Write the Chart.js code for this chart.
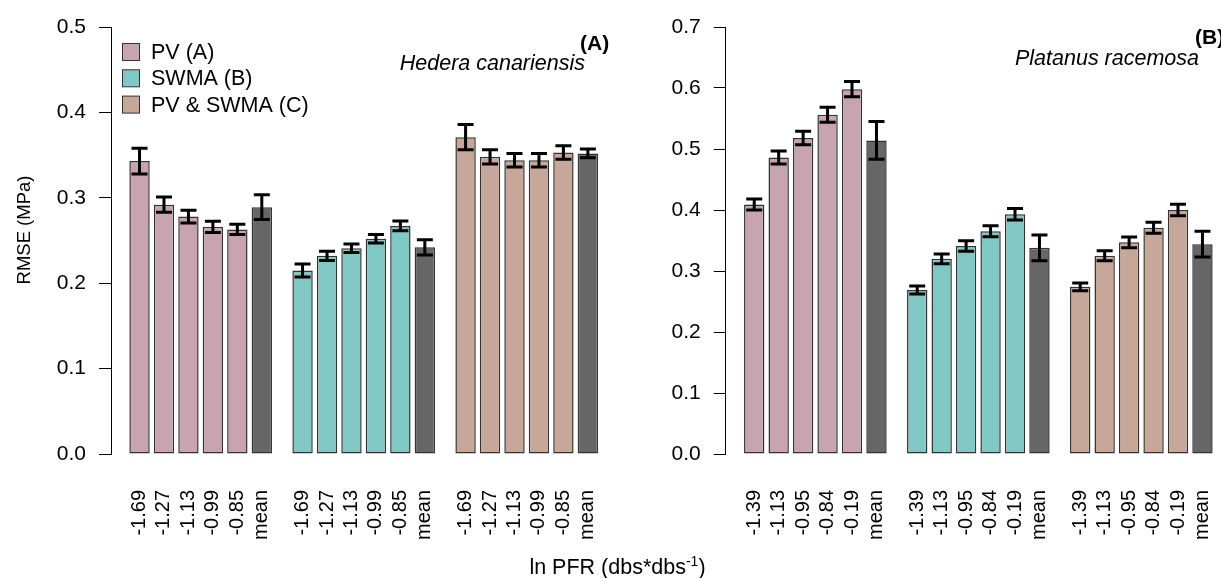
<!DOCTYPE html>
<html>
<head>
<meta charset="utf-8">
<script src="https://cdn.jsdelivr.net/npm/chart.js@4.4.1/dist/chart.umd.min.js"></script>
<style>
  body { margin: 0; background: #fff; }
  #wrap { position: relative; width: 1221px; height: 578px; overflow: hidden; background: #fff;
          font-family: 'Liberation Sans', Arial, sans-serif; }
  #left { position: absolute; left: 0; top: 0; }
  #right { position: absolute; left: 617px; top: 0; }
  #xtitle { position: absolute; left: 0; width: 1235px; top: 557px; text-align: center;
            font-size: 21.5px; line-height: 20px; color: #000; }
  #xtitle span { font-size: 14px; position: relative; top: -8px; }
</style>
</head>
<body>
<div id="wrap">
  <canvas id="left" width="617" height="578"></canvas>
  <canvas id="right" width="604" height="578"></canvas>
  <div id="xtitle">ln PFR (dbs*dbs<span>-1</span>)</div>
</div>
<script>
// groups (legend) and PFR class labels
const groups = ['PV (A)', 'SWMA (B)', 'PV & SWMA (C)'];
const pfrHedera = ['-1.69', '-1.27', '-1.13', '-0.99', '-0.85', 'mean'];
const pfrPlatanus = ['-1.39', '-1.13', '-0.95', '-0.84', '-0.19', 'mean'];

// Hedera canariensis RMSE and error
const hederaPV = [0.343, 0.292, 0.278, 0.266, 0.263, 0.289];
const hederaPVerr = [0.015, 0.009, 0.0075, 0.0065, 0.006, 0.0145];
const hederaSWMA = [0.215, 0.232, 0.241, 0.252, 0.267, 0.242];
const hederaSWMAerr = [0.0076, 0.0055, 0.005, 0.005, 0.0057, 0.009];
const hederaBoth = [0.371, 0.348, 0.344, 0.344, 0.353, 0.352];
const hederaBothErr = [0.0147, 0.0084, 0.0078, 0.008, 0.008, 0.005];

// Platanus racemosa RMSE and error
const platanusPV = [0.409, 0.486, 0.518, 0.556, 0.598, 0.514];
const platanusPVerr = [0.009, 0.0107, 0.011, 0.0123, 0.0125, 0.031];
const platanusSWMA = [0.269, 0.320, 0.341, 0.365, 0.393, 0.338];
const platanusSWMAerr = [0.0065, 0.008, 0.0085, 0.009, 0.0095, 0.021];
const platanusBoth = [0.274, 0.325, 0.347, 0.371, 0.400, 0.344];
const platanusBothErr = [0.0065, 0.008, 0.0088, 0.009, 0.0095, 0.021];

const groupColors = ['#c8a3b0', '#81c7c4', '#c6a79a'];
const meanColor = '#666666';
const FONT = "'Liberation Sans', Arial, sans-serif";

Chart.defaults.font.family = FONT;
Chart.defaults.color = '#000';

const errorBars = {
  id: 'errorBars',
  afterDatasetsDraw(chart) {
    const ctx = chart.ctx;
    const y = chart.scales.y;
    ctx.save();
    ctx.strokeStyle = '#000';
    ctx.lineWidth = 3;
    chart.data.datasets.forEach((ds, i) => {
      chart.getDatasetMeta(i).data.forEach((bar, j) => {
        const v = ds.data[j].y, e = ds.err[j];
        const t = y.getPixelForValue(v + e), b = y.getPixelForValue(v - e);
        ctx.beginPath();
        ctx.moveTo(bar.x, t); ctx.lineTo(bar.x, b);
        ctx.moveTo(bar.x - 8, t); ctx.lineTo(bar.x + 8, t);
        ctx.moveTo(bar.x - 8, b); ctx.lineTo(bar.x + 8, b);
        ctx.stroke();
      });
    });
    ctx.restore();
  }
};

const notes = {
  id: 'notes',
  afterDraw(chart, args, o) {
    const ctx = chart.ctx;
    ctx.save();
    ctx.fillStyle = '#000';
    ctx.textBaseline = 'alphabetic';
    ctx.font = 'italic 21.5px ' + FONT;
    ctx.textAlign = 'right';
    ctx.fillText(o.species, o.sx, o.sy);
    ctx.font = 'bold 21px ' + FONT;
    ctx.textAlign = 'left';
    ctx.fillText(o.letter, o.lx, o.ly);
    if (o.yTitle) {
      ctx.save();
      ctx.translate(30, 230);
      ctx.rotate(-Math.PI / 2);
      ctx.font = '18.5px ' + FONT;
      ctx.textAlign = 'center';
      ctx.fillText(o.yTitle, 0, 0);
      ctx.restore();
    }
    if (o.legend) {
      ctx.font = '21.5px ' + FONT;
      ctx.textBaseline = 'middle';
      chart.data.datasets.forEach((ds, i) => {
        const cy = 52 + i * 26.3;
        ctx.fillStyle = groupColors[i];
        ctx.fillRect(122, cy - 8.5, 17, 17);
        ctx.strokeStyle = '#333';
        ctx.lineWidth = 1;
        ctx.strokeRect(122.5, cy - 8.5, 17, 17);
        ctx.fillStyle = '#000';
        ctx.fillText(ds.label, 151, cy + 1);
      });
    }
    ctx.restore();
  }
};

function makeChart(id, labels, series, errs, yMax, opts) {
  const centers = [];
  const tickLabels = [];
  const datasets = series.map((vals, g) => {
    const pts = vals.map((v, j) => {
      const x = g * 8 + j * 1.2 + 0.5;
      centers.push(x);
      tickLabels.push(labels[j]);
      return { x: x, y: v };
    });
    return {
      label: groups[g],
      data: pts,
      err: errs[g],
      backgroundColor: vals.map((v, j) => j === vals.length - 1 ? meanColor : groupColors[g]),
      borderColor: '#333',
      borderWidth: 1.5,
      borderSkipped: false,
      grouped: false,
      barPercentage: 1 / 1.2,
      categoryPercentage: 1
    };
  });

  return new Chart(document.getElementById(id), {
    type: 'bar',
    data: { datasets: datasets },
    options: {
      responsive: false,
      animation: false,
      devicePixelRatio: 1,
      layout: { padding: { top: 27, left: 0, right: 0, bottom: 0 } },
      plugins: {
        legend: { display: false },
        tooltip: { enabled: false },
        notes: opts.notes
      },
      scales: {
        x: {
          type: 'linear',
          offset: false,
          min: -0.9,
          max: opts.xMax,
          grid: { display: false },
          border: { display: false },
          afterBuildTicks: s => { s.ticks = centers.map(v => ({ value: v })); },
          afterFit: s => { s.height = 124; s.paddingLeft = 0; s.paddingRight = 0; },
          ticks: {
            autoSkip: false,
            minRotation: 90,
            maxRotation: 90,
            padding: 28,
            font: { size: 20 },
            color: '#000',
            callback: (v, i) => tickLabels[i]
          }
        },
        y: {
          min: 0,
          max: yMax,
          afterFit: s => { s.width = opts.yWidth; s.paddingTop = 0; s.paddingBottom = 0; },
          grid: { drawOnChartArea: false, drawTicks: true, tickLength: 12, tickColor: '#000', tickWidth: 1 },
          border: { display: true, color: '#000', width: 1 },
          ticks: {
            stepSize: 0.1,
            padding: 13,
            font: { size: 21 },
            color: '#000',
            callback: v => v.toFixed(1)
          }
        }
      }
    },
    plugins: [errorBars, notes]
  });
}

makeChart('left', pfrHedera,
  [hederaPV, hederaSWMA, hederaBoth],
  [hederaPVerr, hederaSWMAerr, hederaBothErr], 0.5,
  { yWidth: 111, xMax: 23.93,
    notes: { species: 'Hedera canariensis', sx: 585, sy: 70, letter: '(A)', lx: 580, ly: 50,
             legend: true, yTitle: 'RMSE (MPa)' } });

makeChart('right', pfrPlatanus,
  [platanusPV, platanusSWMA, platanusBoth],
  [platanusPVerr, platanusSWMAerr, platanusBothErr], 0.7,
  { yWidth: 108.7, xMax: 23.41,
    notes: { species: 'Platanus racemosa', sx: 582, sy: 65, letter: '(B)', lx: 578, ly: 44,
             legend: false } });
</script>
</body>
</html>
